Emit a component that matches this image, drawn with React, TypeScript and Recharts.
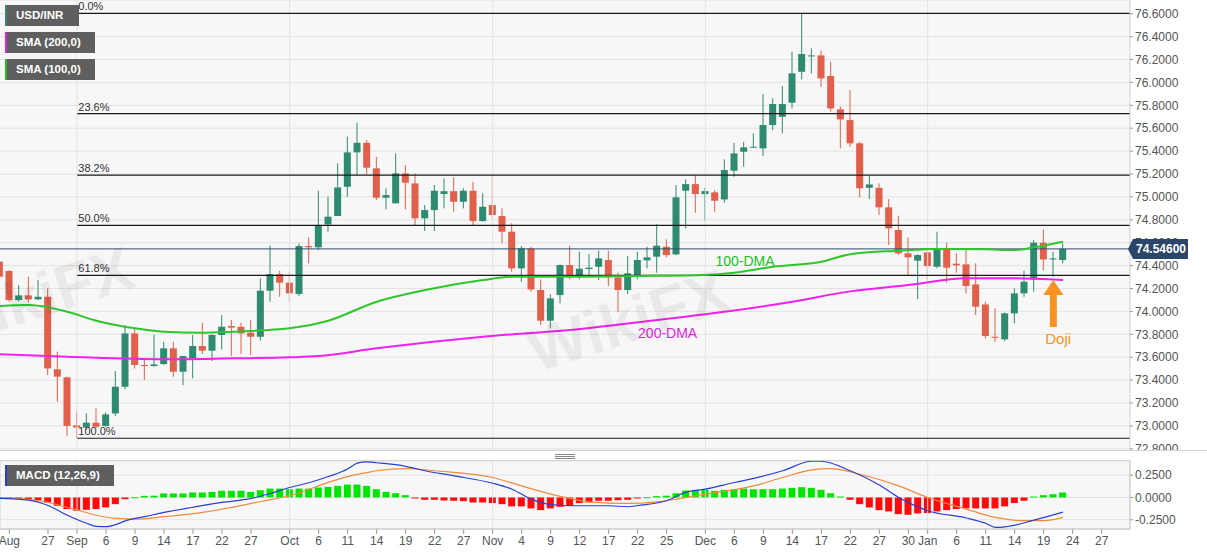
import React from 'react';
import {
  Bar,
  CartesianGrid,
  ComposedChart,
  Line,
  ReferenceArea,
  ReferenceDot,
  ReferenceLine,
  XAxis,
  YAxis,
} from 'recharts';

// daily candles, one per weekday from Aug 20 2021 to Jan 21 2022
const opens = [
  74.434, 74.353, 74.099, 74.14, 74.105, 74.128, 73.494, 73.424, 73.005, 72.985,
  73.028, 73.0, 73.109, 73.342, 73.808, 73.532, 73.523, 73.54, 73.677, 73.473,
  73.59, 73.698, 73.657, 73.794, 73.872, 73.866, 73.814, 73.779, 74.181, 74.326,
  74.251, 74.152, 74.571, 74.56, 74.76, 74.833, 75.089, 75.389, 75.473, 75.25,
  74.993, 74.944, 75.205, 75.118, 74.813, 74.885, 75.025, 75.05, 74.958, 75.054,
  74.789, 74.929, 74.833, 74.696, 74.376, 74.55, 74.187, 73.919, 74.143, 74.405,
  74.309, 74.37, 74.39, 74.449, 74.297, 74.187, 74.309, 74.446, 74.478, 74.565,
  74.498, 75.054, 75.112, 75.025, 75.04, 74.978, 75.229, 75.395, 75.43, 75.424,
  75.628, 75.7, 75.823, 76.093, 76.23, 76.236, 76.056, 75.765, 75.671, 75.468,
  75.08, 75.08, 74.909, 74.711, 74.507, 74.443, 74.516, 74.39, 74.542, 74.417,
  74.411, 74.236, 74.061, 73.779, 73.756, 73.983, 74.158, 74.28, 74.6, 74.454,
  74.449,
];
const highs = [
  74.478, 74.36, 74.23, 74.303, 74.274, 74.201, 73.648, 73.43, 73.124, 73.109,
  73.153, 73.118, 73.479, 73.881, 73.852, 73.575, 73.794, 73.735, 73.735, 73.61,
  73.794, 73.901, 73.8, 73.968, 73.925, 73.901, 73.925, 74.289, 74.574, 74.355,
  74.347, 74.594, 74.647, 75.054, 75.002, 75.293, 75.526, 75.648, 75.497, 75.351,
  75.075, 75.38, 75.278, 75.205, 74.929, 75.104, 75.162, 75.171, 75.075, 75.133,
  75.031, 75.191, 74.9, 74.769, 74.571, 74.565, 74.28, 74.152, 74.41, 74.574,
  74.522, 74.501, 74.53, 74.53, 74.338, 74.483, 74.522, 74.565, 74.763, 74.629,
  75.104, 75.153, 75.191, 75.083, 75.06, 75.328, 75.473, 75.482, 75.555, 75.898,
  75.861, 75.968, 76.268, 76.597, 76.297, 76.277, 76.181, 75.788, 75.933, 75.482,
  75.185, 75.118, 74.981, 74.836, 74.647, 74.5, 74.536, 74.696, 74.6, 74.507,
  74.536, 74.42, 74.085, 74.026, 73.99, 74.201, 74.355, 74.623, 74.716, 74.522,
  74.594,
];
const lows = [
  74.274, 74.085, 74.085, 74.076, 74.099, 73.444, 73.211, 72.911, 72.892, 72.964,
  72.978, 72.993, 73.086, 73.319, 73.502, 73.4, 73.517, 73.532, 73.43, 73.357,
  73.415, 73.628, 73.567, 73.668, 73.61, 73.628, 73.619, 73.744, 74.085, 74.128,
  74.085, 74.134, 74.42, 74.536, 74.696, 74.833, 75.0, 75.191, 75.2, 74.973,
  74.891, 74.944, 74.891, 74.754, 74.702, 74.702, 74.9, 74.871, 74.9, 74.754,
  74.783, 74.804, 74.594, 74.347, 74.26, 74.172, 73.881, 73.852, 74.07, 74.28,
  74.28, 74.318, 74.274, 74.222, 73.993, 74.152, 74.28, 74.376, 74.338, 74.472,
  74.492, 74.725, 74.862, 74.792, 74.871, 74.949, 75.176, 75.264, 75.43, 75.357,
  75.584, 75.555, 75.773, 76.027, 76.079, 75.962, 75.744, 75.424, 75.438, 74.996,
  74.981, 74.842, 74.58, 74.492, 74.309, 74.108, 74.274, 74.376, 74.251, 74.338,
  74.158, 73.968, 73.764, 73.735, 73.741, 73.896, 74.128, 74.172, 74.355, 74.303,
  74.42,
];
const closes = [
  74.303, 74.099, 74.14, 74.105, 74.128, 73.502, 73.43, 73.0, 72.985, 73.028,
  72.993, 73.1, 73.342, 73.808, 73.532, 73.523, 73.537, 73.677, 73.473, 73.61,
  73.698, 73.657, 73.794, 73.866, 73.858, 73.808, 73.779, 74.181, 74.326, 74.251,
  74.158, 74.571, 74.56, 74.754, 74.827, 75.083, 75.389, 75.473, 75.255, 74.993,
  75.016, 75.205, 75.124, 74.813, 74.885, 75.054, 75.05, 74.958, 75.054, 74.789,
  74.914, 74.842, 74.696, 74.376, 74.55, 74.192, 73.919, 74.114, 74.405, 74.309,
  74.373, 74.382, 74.463, 74.297, 74.187, 74.332, 74.449, 74.472, 74.574, 74.492,
  74.996, 75.112, 75.025, 75.051, 74.967, 75.235, 75.38, 75.433, 75.438, 75.628,
  75.811, 75.811, 76.079, 76.248, 76.236, 76.035, 75.773, 75.677, 75.468, 75.075,
  75.109, 74.909, 74.725, 74.507, 74.472, 74.492, 74.396, 74.55, 74.382, 74.402,
  74.222, 74.041, 73.785, 73.77, 73.983, 74.158, 74.259, 74.6, 74.454, 74.463,
  74.546,
];

// MACD histogram, one per candle
const macdHist = [
  -0.01, -0.015, -0.015, -0.018, -0.03, -0.056, -0.093, -0.13, -0.149, -0.138,
  -0.13, -0.112, -0.075, -0.019, 0.003, 0.018, 0.02, 0.045, 0.045, 0.045,
  0.056, 0.056, 0.063, 0.075, 0.075, 0.075, 0.063, 0.082, 0.1, 0.1,
  0.093, 0.1, 0.1, 0.112, 0.119, 0.13, 0.145, 0.145, 0.13, 0.093,
  0.063, 0.048, 0.026, -0.004, -0.026, -0.026, -0.034, -0.037, -0.041, -0.056,
  -0.056, -0.063, -0.075, -0.1, -0.1, -0.123, -0.142, -0.123, -0.104, -0.093,
  -0.063, -0.056, -0.037, -0.037, -0.03, -0.026, -0.011, 0.002, 0.015, 0.02,
  0.048, 0.078, 0.086, 0.086, 0.075, 0.086, 0.093, 0.1, 0.093, 0.093,
  0.093, 0.1, 0.108, 0.116, 0.108, 0.086, 0.048, 0.011, -0.026, -0.075,
  -0.112, -0.142, -0.157, -0.187, -0.194, -0.179, -0.175, -0.157, -0.142, -0.13,
  -0.123, -0.123, -0.123, -0.123, -0.1, -0.063, -0.037, 0.011, 0.026, 0.037,
  0.056,
];

// moving averages and MACD lines, read at [candle index, value]
const sma100Pts: [number, number][] = [
  [0, 74.047], [3, 74.056], [7, 73.997], [10, 73.919], [14, 73.852], [17, 73.823],
  [21, 73.814], [24, 73.823], [30, 73.852], [34, 73.919], [39, 74.085], [44, 74.187],
  [50, 74.274], [53, 74.303], [59, 74.303], [66, 74.309], [72, 74.315], [76, 74.338],
  [80, 74.39], [85, 74.434], [88, 74.5], [93, 74.53], [97, 74.545], [102, 74.542],
  [105, 74.536], [107, 74.56], [110, 74.609],
];
const sma200Pts: [number, number][] = [
  [0, 73.625], [7, 73.604], [17, 73.582], [24, 73.59], [30, 73.599], [33, 73.61],
  [39, 73.678], [50, 73.779], [59, 73.838], [68, 73.925], [75, 73.997], [82, 74.085],
  [88, 74.175], [94, 74.23], [100, 74.289], [105, 74.289], [110, 74.274],
];
const macdPts: [number, number][] = [
  [0, -0.011], [3, -0.03], [5, -0.09], [7, -0.2], [9, -0.29], [10, -0.325], [11, -0.328],
  [12, -0.305], [13, -0.262], [15, -0.216], [17, -0.168], [20, -0.11], [23, -0.056],
  [26, -0.011], [28, 0.045], [30, 0.112], [32, 0.165], [34, 0.235], [36, 0.32], [37, 0.385],
  [38, 0.4], [39, 0.39], [42, 0.35], [44, 0.3], [47, 0.243], [51, 0.16], [53, 0.093],
  [55, -0.019], [57, -0.08], [59, -0.093], [63, -0.093], [65, -0.104], [66, -0.09],
  [69, -0.037], [71, 0.06], [73, 0.093], [76, 0.168], [78, 0.215], [81, 0.3], [84, 0.407],
  [85, 0.407], [88, 0.3], [91, 0.14], [93, 0.0], [96, -0.149], [100, -0.23], [102, -0.29],
  [103, -0.336], [104, -0.33], [107, -0.255], [110, -0.165],
];
const signalPts: [number, number][] = [
  [0, -0.005], [3, -0.02], [5, -0.056], [8, -0.14], [10, -0.2], [12, -0.235], [14, -0.243],
  [17, -0.216], [21, -0.168], [24, -0.112], [27, -0.045], [30, 0.019], [34, 0.17],
  [36, 0.235], [38, 0.28], [39, 0.3], [42, 0.325], [45, 0.3], [51, 0.224], [54, 0.13],
  [57, 0.037], [59, -0.011], [61, -0.049], [65, -0.067], [68, -0.049], [70, -0.019],
  [73, 0.037], [78, 0.13], [81, 0.224], [84, 0.31], [86, 0.325], [89, 0.261], [93, 0.13],
  [96, 0.0], [100, -0.13], [103, -0.224], [106, -0.261], [108, -0.261], [110, -0.224],
];

const xTickIdx = [
  1, 5, 8, 11, 14, 17, 20, 23, 26, 30, 33, 36, 39, 42, 45, 48, 51, 54, 57, 60, 63, 66, 69,
  73, 76, 79, 82, 85, 88, 91, 94, 96, 99, 102, 105, 108, 111, 114,
];
const xTickLabels = [
  'Aug', '27', 'Sep', '6', '9', '14', '17', '22', '27', 'Oct', '6', '11', '14', '19', '22',
  '27', 'Nov', '4', '9', '12', '17', '22', '25', 'Dec', '6', '9', '14', '17', '22', '27',
  '30', 'Jan', '6', '11', '14', '19', '24', '27',
];
const monthStartIdx = [8, 30, 51, 73, 96];
const priceTicks = [
  72.8, 73.0, 73.2, 73.4, 73.6, 73.8, 74.0, 74.2, 74.4, 74.6, 74.8, 75.0, 75.2, 75.4, 75.6,
  75.8, 76.0, 76.2, 76.4, 76.6,
];
const macdTicks = [-0.25, 0, 0.25];
const fibLabels = ['0.0%', '23.6%', '38.2%', '50.0%', '61.8%', '100.0%'];
const fibPrices = [76.603, 75.727, 75.19, 74.752, 74.315, 72.892];
const fibStartIdx = 8.03;
const lastPrice = 74.546;

const X_DOMAIN: [number, number] = [0.034, 116.93];
const PRICE_DOMAIN: [number, number] = [72.7895, 76.72];
const GREEN = '#2e8a70';
const RED = '#e0604b';
const FONT = "'Liberation Sans', Arial, sans-serif";

const priceData = opens.map((o, i) => ({
  i,
  open: o,
  high: highs[i],
  low: lows[i],
  close: closes[i],
  sma100: undefined as number | undefined,
  sma200: undefined as number | undefined,
}));
sma100Pts.forEach(([i, v]) => (priceData[i].sma100 = v));
sma200Pts.forEach(([i, v]) => (priceData[i].sma200 = v));

const macdData = macdHist.map((h, i) => ({
  i,
  hist: h,
  macd: undefined as number | undefined,
  signal: undefined as number | undefined,
}));
macdPts.forEach(([i, v]) => (macdData[i].macd = v));
signalPts.forEach(([i, v]) => (macdData[i].signal = v));

const tickLabelByIdx: Record<number, string> = {};
xTickIdx.forEach((v, k) => (tickLabelByIdx[v] = xTickLabels[k]));

const Candle = (props: any) => {
  const { x, width, payload } = props;
  let { y, height } = props;
  if (height < 0) {
    y += height;
    height = -height;
  }
  const { open, close, high, low } = payload;
  const color = close >= open ? GREEN : RED;
  const span = high - low || 1e-6;
  const toY = (v: number) => y + ((high - v) / span) * height;
  const top = toY(Math.max(open, close));
  const bot = toY(Math.min(open, close));
  const cx = x + width / 2;
  return (
    <g>
      <line x1={cx} x2={cx} y1={y} y2={y + height} stroke={color} strokeWidth={1} />
      <rect x={x} y={top} width={width} height={Math.max(bot - top, 1)} fill={color} />
    </g>
  );
};

const HistBar = (props: any) => {
  const { x, width, payload } = props;
  let { y, height } = props;
  if (height < 0) {
    y += height;
    height = -height;
  }
  return (
    <rect
      x={x}
      y={y}
      width={width}
      height={Math.max(height, 1)}
      fill={payload.hist >= 0 ? '#00e600' : '#ff0a0a'}
    />
  );
};

const PriceTag = (props: any) => {
  const vb = props.viewBox;
  const x = vb.x + vb.width;
  const y = vb.y;
  return (
    <g>
      <path
        d={`M ${x - 2} ${y} L ${x + 3} ${y - 10} L ${x + 58} ${y - 10} L ${x + 58} ${y + 10} L ${x + 3} ${y + 10} Z`}
        fill="#2b4668"
      />
      <text x={x + 31} y={y + 4.5} textAnchor="middle" fill="#fff" fontSize={12} fontWeight="bold">
        {lastPrice.toFixed(5)}
      </text>
    </g>
  );
};

const fibLabel = (text: string) => (props: any) => {
  const vb = props.viewBox;
  return (
    <text x={vb.x + 1} y={vb.y - 3} fill="#333" fontSize={11}>
      {text}
    </text>
  );
};

const UpArrow = (props: any) => {
  const { cx, cy } = props;
  const pts = [
    [cx, cy],
    [cx + 10, cy + 15],
    [cx + 3.5, cy + 15],
    [cx + 3.5, cy + 47],
    [cx - 3.5, cy + 47],
    [cx - 3.5, cy + 15],
    [cx - 10, cy + 15],
  ]
    .map((p) => p.join(','))
    .join(' ');
  return <polygon points={pts} fill="#f7931e" />;
};

const tagStyle = (stripe: string, top: number, width: number): React.CSSProperties => ({
  position: 'absolute',
  left: 5,
  top,
  width,
  height: 21,
  background: '#5f5f5f',
  borderLeft: `2px solid ${stripe}`,
  color: '#fff',
  fontSize: 11.5,
  fontWeight: 'bold',
  lineHeight: '21px',
  paddingLeft: 9,
  boxSizing: 'border-box',
});

const watermark = (left: number, top: number): React.CSSProperties => ({
  position: 'absolute',
  left,
  top,
  fontSize: 62,
  fontWeight: 'bold',
  color: 'rgba(0,0,0,0.055)',
  transform: 'rotate(-18deg)',
  pointerEvents: 'none',
  whiteSpace: 'nowrap',
});

const App = () => {
  return (
    <div
      style={{
        position: 'absolute',
        left: 0,
        top: 0,
        width: 1207,
        height: 555,
        background: '#fff',
        overflow: 'hidden',
        fontFamily: FONT,
      }}
    >
      <div style={{ position: 'absolute', left: 0, top: 0 }}>
        <ComposedChart width={1207} height={450} data={priceData} margin={{ top: 0, right: 0, bottom: 0, left: 0 }}>
          <CartesianGrid vertical={false} stroke="#e3e3e3" fill="#f7f7f7" />
          <XAxis type="number" dataKey="i" domain={X_DOMAIN} allowDataOverflow hide />
          <YAxis
            orientation="right"
            domain={PRICE_DOMAIN}
            allowDataOverflow
            ticks={priceTicks}
            interval={0}
            tickFormatter={(v: number) => v.toFixed(4)}
            width={77}
            tickSize={3}
            tick={{ fill: '#555', fontSize: 12 }}
            axisLine={{ stroke: '#cfcfcf' }}
            tickLine={{ stroke: '#999' }}
          />
          {monthStartIdx.map((m) => (
            <ReferenceLine key={`m${m}`} x={m} stroke="#e3e3e3" />
          ))}
          {fibPrices.map((p, k) => (
            <ReferenceLine
              key={`f${k}`}
              segment={[
                { x: fibStartIdx, y: p },
                { x: X_DOMAIN[1], y: p },
              ]}
              ifOverflow="visible"
              stroke="#1a1a1a"
              strokeWidth={1.2}
              label={fibLabel(fibLabels[k])}
            />
          ))}
          <ReferenceLine y={lastPrice} stroke="#2c4a6e" />
          <Line
            dataKey="sma200"
            type="monotone"
            stroke="#ee22ee"
            strokeWidth={2}
            dot={false}
            connectNulls
            isAnimationActive={false}
          />
          <Line
            dataKey="sma100"
            type="monotone"
            stroke="#2ec52e"
            strokeWidth={2}
            dot={false}
            connectNulls
            isAnimationActive={false}
          />
          <Bar
            dataKey={(d: any) => [d.low, d.high]}
            barSize={7}
            shape={<Candle />}
            isAnimationActive={false}
          />
          <ReferenceDot
            x={77.1}
            y={74.44}
            r={0}
            stroke="none"
            label={{ value: '100-DMA', fill: '#22bf22', fontSize: 14 }}
          />
          <ReferenceDot
            x={69.1}
            y={73.81}
            r={0}
            stroke="none"
            label={{ value: '200-DMA', fill: '#e31ee3', fontSize: 14 }}
          />
          <ReferenceDot
            x={109.5}
            y={73.766}
            r={0}
            stroke="none"
            label={{ value: 'Doji', fill: '#f7931e', fontSize: 15 }}
          />
          <ReferenceDot x={109} y={74.274} r={0} shape={<UpArrow />} />
        </ComposedChart>
      </div>

      {/* last-price tag, layered above the axis labels */}
      <div style={{ position: 'absolute', left: 0, top: 0, pointerEvents: 'none' }}>
        <ComposedChart width={1207} height={450} data={priceData} margin={{ top: 0, right: 77, bottom: 0, left: 0 }}>
          <XAxis type="number" dataKey="i" domain={X_DOMAIN} allowDataOverflow hide />
          <YAxis domain={PRICE_DOMAIN} allowDataOverflow hide />
          <ReferenceLine y={lastPrice} stroke="none" label={PriceTag} />
        </ComposedChart>
      </div>

      <div style={{ position: 'absolute', left: 0, top: 450, width: 1207, height: 1, background: '#d4d4d4' }} />
      <div style={{ position: 'absolute', left: 555, top: 454, width: 20, height: 5, borderTop: '1px solid #888', borderBottom: '1px solid #888', boxSizing: 'border-box' }} />
      <div style={{ position: 'absolute', left: 555, top: 456, width: 20, height: 1, background: '#888' }} />

      <div style={{ position: 'absolute', left: 0, top: 456 }}>
        <ComposedChart width={1207} height={99} data={macdData} margin={{ top: 4.7, right: 0, bottom: 0, left: 0 }}>
          <CartesianGrid vertical={false} stroke="#e3e3e3" fill="#f7f7f7" />
          <XAxis
            type="number"
            dataKey="i"
            domain={X_DOMAIN}
            allowDataOverflow
            ticks={xTickIdx}
            interval={0}
            tickFormatter={(v: number) => tickLabelByIdx[v] ?? ''}
            height={26}
            tickSize={5}
            tick={{ fill: '#555', fontSize: 12 }}
            axisLine={{ stroke: '#cfcfcf' }}
            tickLine={{ stroke: '#999' }}
          />
          <YAxis
            orientation="right"
            domain={[-0.354, 0.413]}
            allowDataOverflow
            ticks={macdTicks}
            interval={0}
            tickFormatter={(v: number) => v.toFixed(4)}
            width={77}
            tickSize={3}
            tick={{ fill: '#555', fontSize: 12 }}
            axisLine={{ stroke: '#cfcfcf' }}
            tickLine={{ stroke: '#999' }}
          />
          {monthStartIdx.map((m) => (
            <ReferenceLine key={`mm${m}`} x={m} stroke="#e3e3e3" />
          ))}
          <ReferenceArea
            x1={X_DOMAIN[0]}
            x2={X_DOMAIN[1]}
            y1={-0.354}
            y2={0.413}
            fill="none"
            stroke="#d0d0d0"
            ifOverflow="visible"
          />
          <Bar dataKey="hist" barSize={7} shape={<HistBar />} isAnimationActive={false} />
          <Line
            dataKey="signal"
            type="monotone"
            stroke="#f08a3c"
            strokeWidth={1.2}
            dot={false}
            connectNulls
            isAnimationActive={false}
          />
          <Line
            dataKey="macd"
            type="monotone"
            stroke="#2b3fd1"
            strokeWidth={1.2}
            dot={false}
            connectNulls
            isAnimationActive={false}
          />
        </ComposedChart>
      </div>

      <div style={watermark(-70, 262)}>WikiFX</div>
      <div style={watermark(525, 285)}>WikiFX</div>

      <div style={tagStyle('#2e8a70', 5, 74)}>USD/INR</div>
      <div style={tagStyle('#e020e0', 32, 90)}>SMA (200,0)</div>
      <div style={tagStyle('#22c022', 59, 90)}>SMA (100,0)</div>
      <div style={tagStyle('#1f3fd6', 465, 109)}>MACD (12,26,9)</div>
    </div>
  );
};

export default App;
